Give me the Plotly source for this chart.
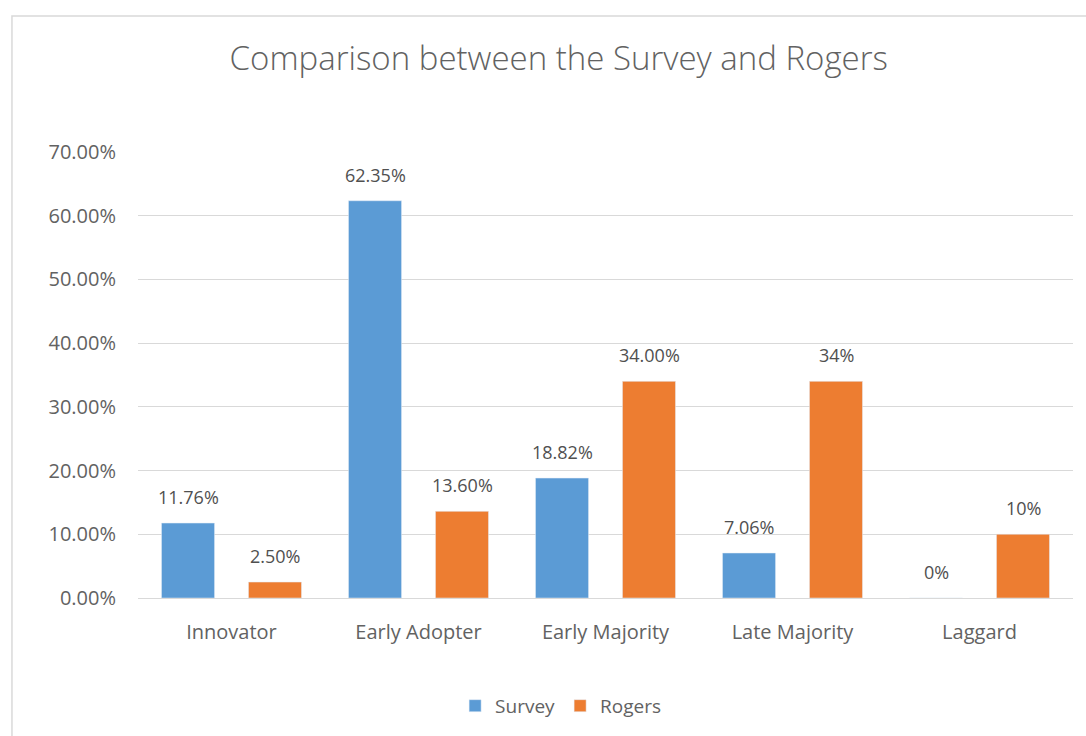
import plotly.graph_objects as go

# Adopter categories and shares (%) per source
categories = ["Innovator", "Early Adopter", "Early Majority", "Late Majority", "Laggard"]
survey = [11.76, 62.35, 18.82, 7.06, 0.0]
rogers = [2.50, 13.60, 34.00, 34.0, 10.0]
survey_labels = ["11.76%", "62.35%", "18.82%", "7.06%", "0%"]
rogers_labels = ["2.50%", "13.60%", "34.00%", "34%", "10%"]
y_ticks = [0, 10, 20, 30, 40, 50, 60, 70]
y_tick_text = ["0.00%", "10.00%", "20.00%", "30.00%", "40.00%", "50.00%", "60.00%", "70.00%"]

BLUE = "#5B9BD5"
ORANGE = "#ED7D31"
TEXT = "#626262"
LABEL = "#505050"
GRID = "#d9d9d9"
FONT = "Open Sans"

fig = go.Figure()
fig.add_trace(go.Bar(name="Survey", x=categories, y=survey, marker_color=BLUE))
fig.add_trace(go.Bar(name="Rogers", x=categories, y=rogers, marker_color=ORANGE))

# Value labels above each bar
annotations = []
for vals, labels, shift in ((survey, survey_labels, -43.5), (rogers, rogers_labels, 43.5)):
    for cat, v, lab in zip(categories, vals, labels):
        annotations.append(dict(
            x=cat, y=v, xref="x", yref="y", text=lab, showarrow=False,
            xshift=shift, yshift=26, font=dict(family=FONT, size=18, color=LABEL),
        ))

fig.update_layout(
    width=1086, height=736,
    margin=dict(l=138, r=13, t=152, b=137),
    paper_bgcolor="white", plot_bgcolor="white",
    barmode="group", bargap=0.07, bargroupgap=0.39,
    font=dict(family=FONT, size=19, color=TEXT),
    title=dict(
        text="Comparison between the Survey and Rogers",
        x=0.45, xanchor="center", xref="paper", y=0.92, yanchor="middle",
        font=dict(family=FONT, size=33, color=TEXT, weight=300),
    ),
    legend=dict(
        orientation="h", x=0.452, xanchor="center", y=-0.239, yanchor="middle",
        font=dict(family=FONT, size=19, color=TEXT), itemwidth=30, traceorder="normal",
    ),
    annotations=annotations,
    shapes=[dict(
        type="rect", xref="paper", yref="paper",
        x0=-0.1348, x1=1.2, y0=-0.4, y1=1.305,
        line=dict(color=GRID, width=1.5), layer="below",
    )],
)
fig.update_yaxes(
    range=[0, 70], tickvals=y_ticks, ticktext=y_tick_text,
    showgrid=True, gridcolor=GRID, gridwidth=1, zeroline=False,
    showline=False, ticks="", ticklabelstandoff=21,
    tickfont=dict(family=FONT, size=20, color=TEXT),
)
fig.update_xaxes(
    showline=True, linecolor=GRID, linewidth=1, ticks="",
    ticklabelstandoff=16, tickfont=dict(family=FONT, size=20, color=TEXT),
)

fig.write_html("out.html")
